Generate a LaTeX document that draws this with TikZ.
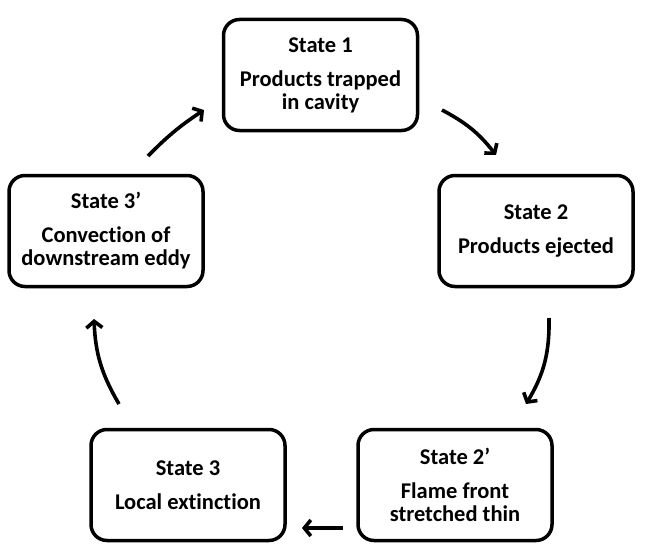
\documentclass[tikz,border=0pt]{standalone}
\usepackage{fontspec}
\setmainfont{Carlito}[Ligatures={NoCommon}]
\usetikzlibrary{arrows.meta}
\begin{document}
\begin{tikzpicture}[x=1pt,y=-1pt,
  statebox/.style={draw=black, line width=3.5pt, rounded corners=16pt,
    minimum width=194pt, minimum height=111pt, align=center, inner sep=0pt,
    font=\fontsize{22.5}{23}\selectfont\bfseries},
  flow/.style={line width=3.6pt, -{Straight Barb[length=6.5pt,width=16pt]}}]
\useasboundingbox (0,0) rectangle (645,551);
\node[statebox] (s1) at (320.5,75) {State 1\\[11pt]Products trapped\\in cavity};
\node[statebox] (s2) at (536,231) {State 2\\[11pt]Products ejected};
\node[statebox] (s2p) at (455,485) {State 2’\\[11pt]Flame front\\stretched thin};
\node[statebox] (s3) at (188,485) {State 3\\[11pt]Local extinction};
\node[statebox] (s3p) at (106,231) {State 3’\\[11pt]Convection of\\downstream eddy};
\coordinate (a1s) at (442,110); \coordinate (a1e) at (496,155);
\coordinate (a2s) at (549,318); \coordinate (a2e) at (526,404);
\coordinate (a3s) at (343,528); \coordinate (a3e) at (302,528);
\coordinate (a4s) at (119,404); \coordinate (a4e) at (94,319);
\coordinate (a5s) at (148,156); \coordinate (a5e) at (204,110);
\draw[flow] (a1s) to[bend left=12] (a1e);
\draw[flow] (a2s) to[bend left=16] (a2e);
\draw[flow] (a3s) -- (a3e);
\draw[flow] (a4s) to[bend left=14] (a4e);
\draw[flow] (a5s) to[bend left=6] (a5e);
\end{tikzpicture}
\end{document}
